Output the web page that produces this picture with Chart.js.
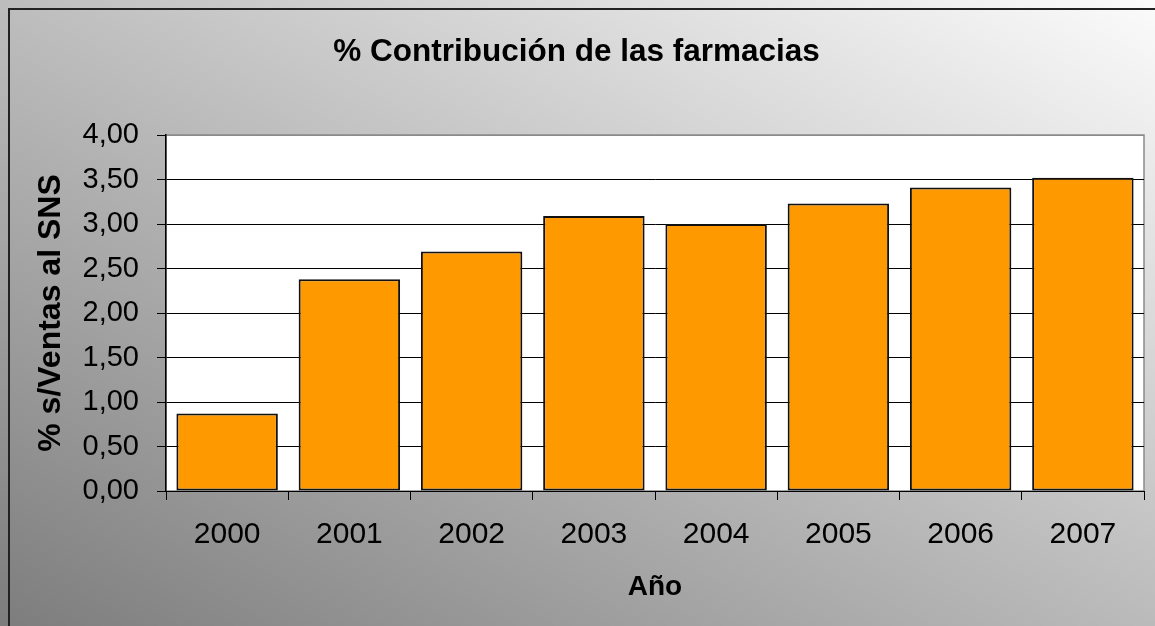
<!DOCTYPE html>
<html>
<head>
<meta charset="utf-8">
<script src="https://cdn.jsdelivr.net/npm/chart.js@4"></script>
<style>
  body { margin: 0; background: #fff; }
  canvas { display: block; }
</style>
</head>
<body>
<canvas id="chart" width="1155" height="626"></canvas>
<script>
// data
const years = ['2000', '2001', '2002', '2003', '2004', '2005', '2006', '2007'];
const contribution = [0.87, 2.38, 2.69, 3.09, 3.00, 3.23, 3.41, 3.52];
const yTickLabels = ['0,00', '0,50', '1,00', '1,50', '2,00', '2,50', '3,00', '3,50', '4,00'];

const FONT = '"Liberation Sans", Arial, sans-serif';

// gradient frame + white plot area, drawn before the scales
const backdrop = {
    id: 'backdrop',
    beforeDraw(chart) {
        const c = chart.ctx;
        const a = chart.chartArea;
        c.save();
        const g = c.createLinearGradient(0, 626, 499, -339);
        g.addColorStop(0, '#7d7d7d');
        g.addColorStop(1, '#fbfbfb');
        c.fillStyle = g;
        c.fillRect(0, 0, chart.width, chart.height);
        // frame, only top and left are inside the picture
        c.strokeStyle = '#222';
        c.lineWidth = 2;
        c.beginPath();
        c.moveTo(9, chart.height);
        c.lineTo(9, 9);
        c.lineTo(chart.width, 9);
        c.stroke();
        // plot area
        c.fillStyle = '#fff';
        c.fillRect(a.left, a.top, a.right - a.left, a.bottom - a.top);
        c.strokeStyle = '#8a8a8a';
        c.lineWidth = 1.5;
        c.strokeRect(a.left, a.top, a.right - a.left, a.bottom - a.top);
        c.restore();
    }
};

const config = {
    type: 'bar',
    data: {
        labels: years,
        datasets: [{
            data: contribution,
            backgroundColor: '#FF9900',
            borderColor: '#111',
            borderWidth: 2,
            borderSkipped: false,
            barPercentage: 0.83,
            categoryPercentage: 1.0
        }]
    },
    options: {
        responsive: false,
        animation: false,
        layout: { padding: { left: 9, right: 11, top: 0, bottom: 0 } },
        plugins: {
            legend: { display: false },
            tooltip: { enabled: false },
            title: {
                display: true,
                text: '% Contribución de las farmacias',
                color: '#000',
                font: { family: FONT, size: 31.5, weight: 'bold' },
                padding: { top: 33, bottom: 64.2 }
            }
        },
        scales: {
            x: {
                afterFit(scale) { scale.height = 135; },
                grid: {
                    drawOnChartArea: false,
                    drawTicks: true,
                    tickLength: 9,
                    tickColor: '#000',
                    offset: true
                },
                border: { display: true, color: '#000', width: 1 },
                ticks: {
                    color: '#000',
                    padding: 17,
                    maxRotation: 0,
                    font: { family: FONT, size: 30 }
                },
                title: {
                    display: true,
                    text: 'Año',
                    color: '#000',
                    font: { family: FONT, size: 28, weight: 'bold' },
                    padding: { top: 0, bottom: 22 }
                }
            },
            y: {
                min: 0,
                max: 4,
                afterFit(scale) { scale.width = 157; },
                grid: {
                    color: ctx => (ctx.tick && ctx.tick.value === 4 ? '#8a8a8a' : '#000'),
                    lineWidth: 1,
                    tickLength: 9,
                    tickColor: '#000'
                },
                border: { display: true, color: '#000', width: 1.5 },
                ticks: {
                    stepSize: 0.5,
                    color: '#000',
                    padding: 18,
                    font: { family: FONT, size: 29 },
                    callback: (value, index) => yTickLabels[index]
                },
                title: {
                    display: true,
                    text: '% s/Ventas al SNS',
                    color: '#000',
                    font: { family: FONT, size: 32, weight: 'bold' },
                    padding: { top: 23, bottom: 0 }
                }
            }
        }
    },
    plugins: [backdrop]
};

const ctx = document.getElementById('chart').getContext('2d');
new Chart(ctx, config);
</script>
</body>
</html>
